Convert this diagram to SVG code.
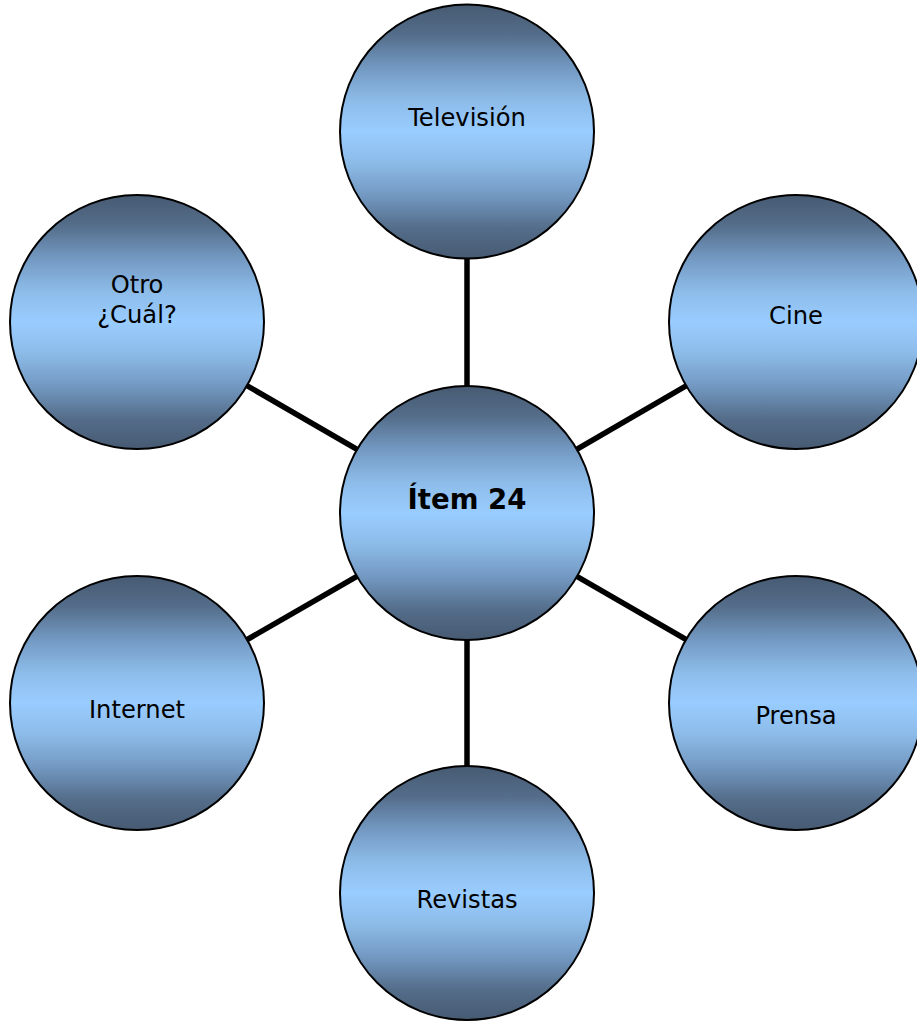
<svg xmlns="http://www.w3.org/2000/svg" width="917" height="1021" viewBox="0 0 917 1021">
<defs>
<linearGradient id="g" x1="0" y1="0" x2="0" y2="1">
<stop offset="0" stop-color="#475a72"/>
<stop offset="0.12" stop-color="#546d8a"/>
<stop offset="0.25" stop-color="#7399c2"/>
<stop offset="0.38" stop-color="#8dbce9"/>
<stop offset="0.5" stop-color="#99ccff"/>
<stop offset="0.62" stop-color="#8dbce9"/>
<stop offset="0.75" stop-color="#7399c2"/>
<stop offset="0.88" stop-color="#546d8a"/>
<stop offset="1" stop-color="#475a72"/>
</linearGradient>
</defs>
<style>
.c{fill:url(#g);stroke:#000;stroke-width:2}
.t{font-family:"DejaVu Sans",Verdana,sans-serif;font-size:24.2px;fill:#000;text-anchor:middle}
.b{font-weight:bold;font-size:27.6px}
.l{stroke:#000;stroke-width:5.5;fill:none}
</style>
<g id="connectors">
<line class="l" x1="467" y1="513" x2="467" y2="131"/>
<line class="l" x1="467" y1="513" x2="796" y2="322"/>
<line class="l" x1="467" y1="513" x2="796" y2="703"/>
<line class="l" x1="467" y1="513" x2="467" y2="893"/>
<line class="l" x1="467" y1="513" x2="137" y2="703"/>
<line class="l" x1="467" y1="513" x2="137" y2="322"/>
</g>
<g id="television"><circle class="c" cx="467" cy="131.5" r="127"/><text class="t" x="467" y="126">Televisión</text></g>
<g id="cine"><circle class="c" cx="796" cy="322" r="127"/><text class="t" x="796" y="324">Cine</text></g>
<g id="prensa"><circle class="c" cx="796" cy="703" r="127"/><text class="t" x="796" y="724">Prensa</text></g>
<g id="revistas"><circle class="c" cx="467" cy="893" r="127"/><text class="t" x="467" y="908">Revistas</text></g>
<g id="internet"><circle class="c" cx="137" cy="703" r="127"/><text class="t" x="137" y="718">Internet</text></g>
<g id="otro"><circle class="c" cx="137" cy="322" r="127"/><text class="t" x="137" y="293">Otro</text><text class="t" x="137" y="322.5">¿Cuál?</text></g>
<g id="item24"><circle class="c" cx="467" cy="513" r="127"/><text class="t b" x="467" y="509">Ítem 24</text></g>
</svg>
